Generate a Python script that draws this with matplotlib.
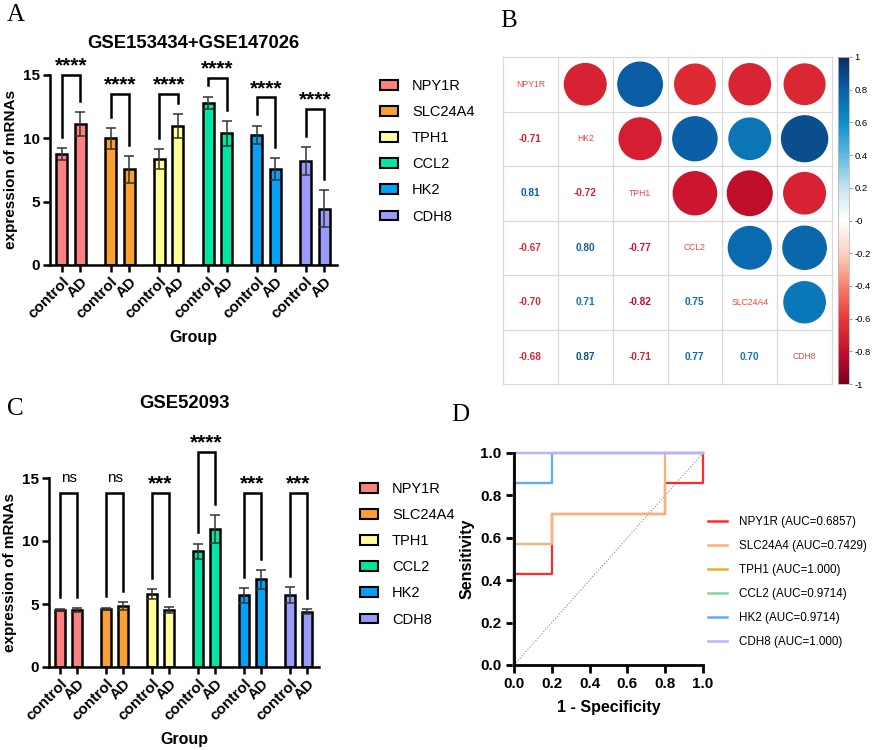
import numpy as np
import matplotlib
matplotlib.use('Agg')
import matplotlib.pyplot as plt
from matplotlib.patches import Patch, Circle
from matplotlib.lines import Line2D
from matplotlib.colors import LinearSegmentedColormap, Normalize
from matplotlib.cm import ScalarMappable

plt.rcParams['font.family'] = ['Liberation Sans', 'DejaVu Sans']

genes = ['NPY1R', 'SLC24A4', 'TPH1', 'CCL2', 'HK2', 'CDH8']
bar_colors = ['#ff8080', '#f9a030', '#ffff99', '#00e6a4', '#04a2f6', '#9a9afa']
groups = ['control', 'AD']

# panel A: GSE153434+GSE147026
a_ctrl = [8.74, 10.0, 8.34, 12.82, 10.26, 8.18]
a_ctrl_err = [0.47, 0.82, 0.79, 0.47, 0.74, 1.11]
a_ad = [11.13, 7.55, 10.97, 10.39, 7.55, 4.45]
a_ad_err = [0.92, 1.05, 0.93, 0.98, 0.87, 1.44]
a_sig = ['****'] * 6
a_bracket = [15.03, 13.5, 13.5, 14.8, 13.24, 12.34]

# panel C: GSE52093
c_ctrl = [4.55, 4.6, 5.8, 9.17, 5.69, 5.69]
c_ctrl_err = [0.07, 0.1, 0.4, 0.63, 0.58, 0.64]
c_ad = [4.5, 4.85, 4.5, 10.97, 6.96, 4.38]
c_ad_err = [0.17, 0.3, 0.25, 1.1, 0.74, 0.21]
c_sig = ['ns', 'ns', '***', '****', '***', '***']
c_bracket = [13.84, 13.84, 13.84, 17.08, 13.84, 13.84]

# panel B: correlation (lower triangle, rows)
corr_names = ['NPY1R', 'HK2', 'TPH1', 'CCL2', 'SLC24A4', 'CDH8']
corr_lower = [
    [],
    [-0.71],
    [0.81, -0.72],
    [-0.67, 0.80, -0.77],
    [-0.70, 0.71, -0.82, 0.75],
    [-0.68, 0.87, -0.71, 0.77, 0.70],
]

# panel D: ROC steps
roc_fpr = {
    'NPY1R': [0, 0, 0.2, 0.2, 0.8, 0.8, 1, 1],
    'SLC24A4': [0, 0, 0.2, 0.2, 0.8, 0.8, 1],
    'TPH1': [0, 0, 1],
    'CCL2': [0, 0, 0.2, 0.2, 1],
    'HK2': [0, 0, 0.2, 0.2, 1],
    'CDH8': [0, 0, 1],
}
roc_tpr = {
    'NPY1R': [0, 0.4286, 0.4286, 0.7143, 0.7143, 0.8571, 0.8571, 1],
    'SLC24A4': [0, 0.5714, 0.5714, 0.7143, 0.7143, 1, 1],
    'TPH1': [0, 1, 1],
    'CCL2': [0, 0.8571, 0.8571, 1, 1],
    'HK2': [0, 0.8571, 0.8571, 1, 1],
    'CDH8': [0, 1, 1],
}
roc_auc = ['0.6857', '0.7429', '1.000', '0.9714', '0.9714', '1.000']
roc_colors = ['#ff2a2a', '#ffb070', '#e8b020', '#80d8a0', '#60b0f0', '#b4b4ff']

W, H = 872, 750
fig = plt.figure(figsize=(W / 100, H / 100), dpi=100)


def rect(l, t, r, b):
    return [l / W, 1 - b / H, (r - l) / W, (b - t) / H]


def bar_panel(ax, ctrl, ctrl_err, ad, ad_err, sig, bracket, gap, title, title_y):
    x_c = np.arange(6) * gap
    x_a = x_c + 1
    for i in range(6):
        ax.bar([x_c[i], x_a[i]], [ctrl[i], ad[i]], width=0.6, color=bar_colors[i],
               edgecolor='black', linewidth=1.8, zorder=2)
        ax.errorbar([x_c[i], x_a[i]], [ctrl[i], ad[i]], yerr=[ctrl_err[i], ad_err[i]],
                    fmt='none', ecolor='#333333', elinewidth=1.1, capsize=3.5,
                    capthick=1.1, zorder=3)
        top = bracket[i]
        lc = ctrl[i] + ctrl_err[i] + 0.9
        la = ad[i] + ad_err[i] + 0.9
        ax.plot([x_c[i], x_c[i], x_a[i], x_a[i]], [lc, top, top, la], color='black',
                lw=1.8, clip_on=False, solid_joinstyle='miter', zorder=4)
        if sig[i] == 'ns':
            ax.text((x_c[i] + x_a[i]) / 2, top + 0.85, 'ns', ha='center', va='baseline',
                    fontsize=11)
        else:
            ax.text((x_c[i] + x_a[i]) / 2, top + 0.25, sig[i], ha='center',
                    va='baseline', fontsize=15, fontweight='bold')
    ticks = np.ravel(np.column_stack([x_c, x_a]))
    ax.set_xticks(ticks)
    ax.set_xticklabels(groups * 6, rotation=45, ha='right', rotation_mode='anchor',
                       fontsize=11, fontweight='bold')
    ax.set_xlim(-0.65, x_a[-1] + 0.7)
    ax.set_ylim(0, 15)
    ax.set_yticks([0, 5, 10, 15])
    ax.set_yticklabels(['0', '5', '10', '15'], fontsize=11, fontweight='bold')
    for s in ['top', 'right']:
        ax.spines[s].set_visible(False)
    for s in ['left', 'bottom']:
        ax.spines[s].set_linewidth(1.8)
    ax.tick_params(axis='both', length=5, width=1.8, pad=2)
    ax.set_ylabel('expression of mRNAs', fontsize=11, fontweight='bold', labelpad=4)
    ax.set_xlabel('Group', fontsize=11.5, fontweight='bold', labelpad=6)
    fig.text(ax.get_position().x0 + ax.get_position().width * 0.5, title_y, title,
             ha='center', va='center', fontsize=13.3, fontweight='bold')


def bar_legend(ax, x, y):
    handles = [Patch(facecolor=c, edgecolor='black', linewidth=1.5) for c in bar_colors]
    ax.legend(handles, genes, loc='upper left', bbox_to_anchor=(x, y),
              bbox_transform=fig.transFigure, frameon=False, fontsize=10.5,
              handlelength=1.25, handleheight=0.65, handletextpad=0.95,
              labelspacing=0.83, borderpad=0, borderaxespad=0)


# ---- A
axA = fig.add_axes(rect(50, 75, 337, 265))
bar_panel(axA, a_ctrl, a_ctrl_err, a_ad, a_ad_err, a_sig, a_bracket, 2.65,
          'GSE153434+GSE147026', 1 - 43 / H)
bar_legend(axA, 380 / W, 1 - 79 / H)

# ---- C
axC = fig.add_axes(rect(49, 478, 319, 667))
bar_panel(axC, c_ctrl, c_ctrl_err, c_ad, c_ad_err, c_sig, c_bracket, 2.7,
          'GSE52093', 1 - 404 / H)
bar_legend(axC, 360 / W, 1 - 482 / H)

# ---- B
cmap = LinearSegmentedColormap.from_list('corr', [
    '#7a0020', '#c8102e', '#e83838', '#f7826a', '#fcd2c2', '#ffffff',
    '#c6e4f2', '#5fb8de', '#0a90c8', '#0a60a8', '#0a2f62'])
norm = Normalize(-1, 1)
n = len(corr_names)
mat = np.eye(n)
for i, row in enumerate(corr_lower):
    for j, v in enumerate(row):
        mat[i, j] = v
        mat[j, i] = v

axB = fig.add_axes(rect(503, 57, 832, 384))
axB.set_xlim(0, n)
axB.set_ylim(n, 0)
axB.axis('off')
for k in range(n + 1):
    axB.plot([k, k], [0, n], color='#d9d9d9', lw=0.9, clip_on=False, zorder=1)
    axB.plot([0, n], [k, k], color='#d9d9d9', lw=0.9, clip_on=False, zorder=1)
for i in range(n):
    for j in range(n):
        v = mat[i, j]
        if i == j:
            axB.text(j + 0.5, i + 0.5, corr_names[i], ha='center', va='center',
                     fontsize=6.2, color='#f04545')
        elif j > i:
            axB.add_patch(Circle((j + 0.5, i + 0.5), 0.45 * np.sqrt(abs(v)),
                                 color=cmap(norm(v)), zorder=2))
        else:
            axB.text(j + 0.5, i + 0.5, '%.2f' % v, ha='center', va='center',
                     fontsize=7.2, fontweight='bold', color=cmap(norm(v)))

cax = fig.add_axes(rect(838, 57, 849, 384))
cb = fig.colorbar(ScalarMappable(norm=norm, cmap=cmap), cax=cax)
cb_ticks = np.round(np.arange(-1, 1.01, 0.2), 1)
cb.set_ticks(cb_ticks)
cb.set_ticklabels(['%g' % t for t in cb_ticks])
cb.outline.set_edgecolor('#bbbbbb')
cb.outline.set_linewidth(0.6)
cax.tick_params(labelsize=6.8, length=2.5, width=0.6, color='#888888', pad=1.5)

# ---- D
axD = fig.add_axes(rect(514, 453, 703, 665))
axD.plot([0, 1], [0, 1], color='#888888', lw=0.8, ls=':', zorder=1)
for g, c in zip(genes, roc_colors):
    axD.plot(roc_fpr[g], roc_tpr[g], color=c, lw=1.6, clip_on=False, zorder=2)
labels = ['%s (AUC=%s)' % (g, a) for g, a in zip(genes, roc_auc)]
handles = [Line2D([], [], color=c, lw=1.8) for c in roc_colors]
axD.legend(handles, labels, loc='upper left', bbox_to_anchor=(708 / W, 1 - 516 / H),
           bbox_transform=fig.transFigure, frameon=False, fontsize=8.4,
           handlelength=1.65, handletextpad=1.0, labelspacing=1.03,
           borderpad=0, borderaxespad=0)
axD.set_xlim(0, 1)
axD.set_ylim(0, 1)
ticks = np.round(np.arange(0, 1.01, 0.2), 1)
axD.set_xticks(ticks)
axD.set_yticks(ticks)
axD.set_xticklabels(['%.1f' % t for t in ticks], fontsize=11, fontweight='bold')
axD.set_yticklabels(['%.1f' % t for t in ticks], fontsize=11, fontweight='bold')
for s in ['top', 'right']:
    axD.spines[s].set_visible(False)
for s in ['left', 'bottom']:
    axD.spines[s].set_linewidth(2)
axD.tick_params(axis='both', length=6, width=2, pad=3)
axD.set_xlabel('1 - Specificity', fontsize=11.5, fontweight='bold', labelpad=6)
axD.set_ylabel('Sensitivity', fontsize=11.5, fontweight='bold', labelpad=4)

# panel letters
for lab, x, y in [('A', 7, 21), ('B', 500, 27), ('C', 7, 415), ('D', 451, 421)]:
    fig.text(x / W, 1 - y / H, lab, fontsize=18, family='Liberation Serif',
             ha='left', va='baseline')

fig.savefig('out.png', dpi=100)
